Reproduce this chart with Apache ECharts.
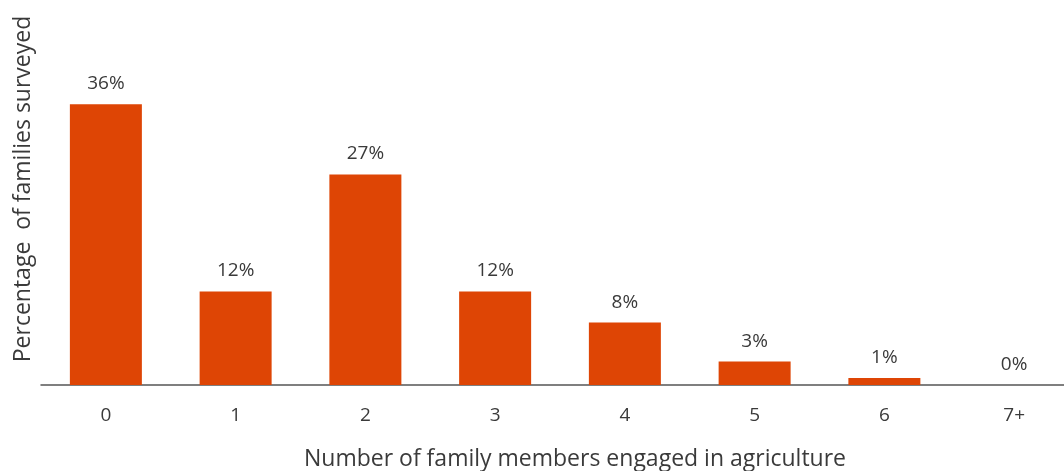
<!DOCTYPE html>
<html>
<head>
<meta charset="utf-8">
<script src="https://cdn.jsdelivr.net/npm/echarts@6/dist/echarts.min.js"></script>
<style>
  html, body { margin: 0; padding: 0; background: #fff; }
  #chart { width: 1064px; height: 471px; }
</style>
</head>
<body>
<div id="chart"></div>
<script>
// 类别与数值
var categories = ['0', '1', '2', '3', '4', '5', '6', '7+'];
var percentValues = [36, 12, 27, 12, 8, 3, 0.9, 0];
var percentLabels = ['36%', '12%', '27%', '12%', '8%', '3%', '1%', '0%'];

var myChart = echarts.init(document.getElementById('chart'));
var font = '"Open Sans", sans-serif';

var option = {
  animation: false,
  grid: {
    left: 41,
    top: 73,
    width: 1038,
    height: 312,
    outerBoundsMode: 'none'
  },
  xAxis: {
    type: 'category',
    data: categories,
    axisLine: { lineStyle: { color: '#555', width: 1.5 } },
    axisTick: { show: false },
    axisLabel: {
      margin: 21,
      fontSize: 19,
      color: '#3a3a3a',
      fontFamily: font
    }
  },
  yAxis: {
    type: 'value',
    min: 0,
    max: 40,
    axisLine: { show: false },
    axisTick: { show: false },
    axisLabel: { show: false },
    splitLine: { show: false }
  },
  graphic: [
    {
      type: 'text',
      x: 23,
      y: 189,
      rotation: Math.PI / 2,
      style: {
        text: 'Percentage  of families surveyed',
        fontSize: 23,
        fontFamily: font,
        fill: '#3a3a3a',
        textAlign: 'center',
        textVerticalAlign: 'middle'
      }
    },
    {
      type: 'text',
      x: 575,
      y: 459,
      style: {
        text: 'Number of family members engaged in agriculture',
        fontSize: 23,
        fontFamily: font,
        fill: '#3a3a3a',
        textAlign: 'center',
        textVerticalAlign: 'middle'
      }
    }
  ],
  series: [{
    type: 'bar',
    data: percentValues,
    barWidth: 72,
    itemStyle: { color: '#DE4505' },
    label: {
      show: true,
      position: 'top',
      distance: 11,
      fontSize: 19,
      color: '#3a3a3a',
      fontFamily: font,
      formatter: function (p) {
        return percentLabels[p.dataIndex];
      }
    }
  }]
};
myChart.setOption(option);
</script>
</body>
</html>
